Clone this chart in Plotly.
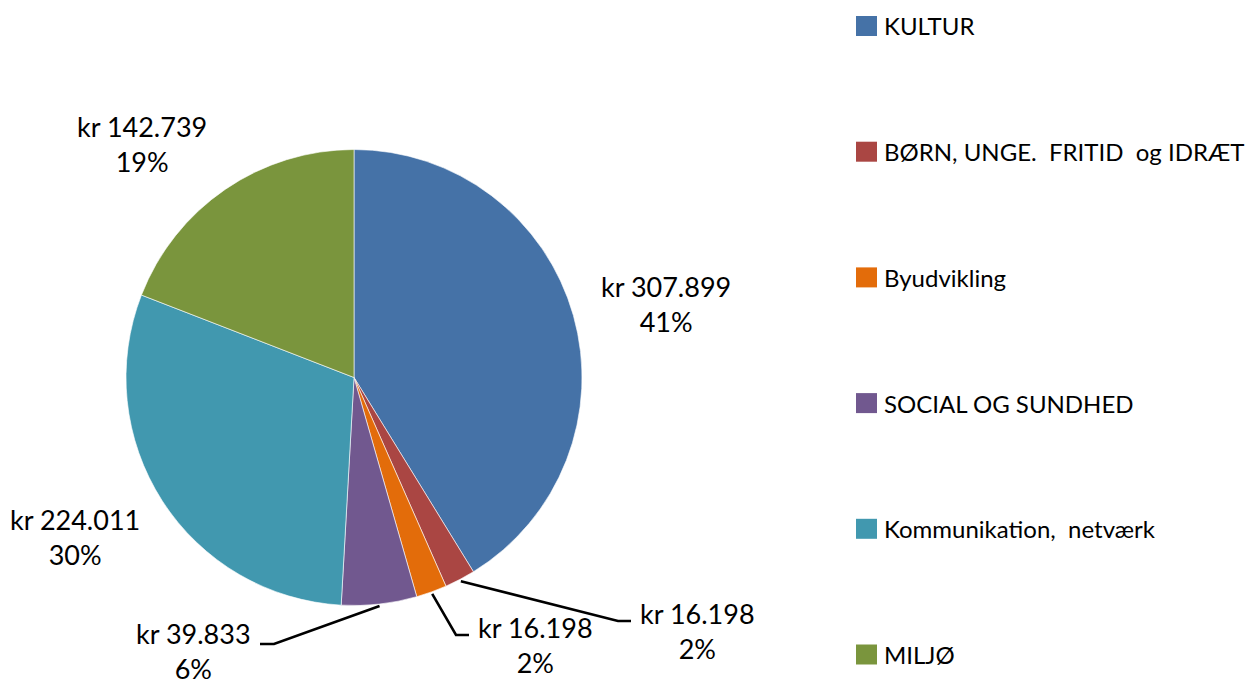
import math
import plotly.graph_objects as go

# ---- data ----
categories = ["KULTUR", "BØRN, UNGE.\u00a0 FRITID\u00a0 og IDRÆT", "Byudvikling",
              "SOCIAL OG SUNDHED", "Kommunikation,\u00a0 netværk", "MILJØ"]
amounts = [307899, 16198, 16198, 39833, 224011, 142739]
pct_labels = ["41%", "2%", "2%", "6%", "30%", "19%"]

# ---- style ----
colors = ["#4572A7", "#AA4643", "#E36C0A", "#71588F", "#4198AF", "#7A953D"]
FONT = "Lato"
W, H = 1254, 684
CX, CY, R = 354, 377.5, 228

# label block centres (pixels) and leader elbows (None = no leader)
label_pos = [(666, 304), (697, 631), (535, 645), (193, 651), (75, 537), (142, 144)]
leader = [None, ((618, 621), (631, 621)), ((456, 635), (469, 635)),
          ((274, 644), (260, 644)), None, None]


def px(x):
    return x / W


def py(y):
    return 1 - y / H


def dk(v):
    return f"{v:,}".replace(",", ".")


fig = go.Figure(go.Pie(
    labels=categories, values=amounts, sort=False, direction="clockwise", rotation=0,
    marker=dict(colors=colors, line=dict(color="white", width=0.6)),
    textinfo="none", hoverinfo="label+value+percent", showlegend=False,
    domain=dict(x=[px(CX - R), px(CX + R)], y=[py(CY + R), py(CY - R)]),
))

total = sum(amounts)
cum = 0
shapes = []
annotations = []
for i, v in enumerate(amounts):
    mid = (cum + v / 2) / total * 2 * math.pi
    cum += v
    lx, ly = label_pos[i]
    annotations.append(dict(
        x=px(lx), y=py(ly), xref="paper", yref="paper", xanchor="center", yanchor="middle",
        text=f"kr {dk(v)}<br>{pct_labels[i]}", showarrow=False, align="center",
        font=dict(family=FONT, size=27, color="#000000")))
    if leader[i] is not None:
        sx = CX + (R + 2) * math.sin(mid)
        sy = CY - (R + 2) * math.cos(mid)
        (ex, ey), (fx, fy) = leader[i]
        shapes.append(dict(
            type="path", xref="paper", yref="paper",
            path=f"M {px(sx)} {py(sy)} L {px(ex)} {py(ey)} L {px(fx)} {py(fy)}",
            line=dict(color="#000000", width=2.6)))

# manual legend
LEG_X0, LEG_SQ = 856, 21
row0, step = 26, 125.7
for i, (c, col) in enumerate(zip(categories, colors)):
    yc = row0 + i * step
    shapes.append(dict(type="rect", xref="paper", yref="paper",
                       x0=px(LEG_X0), x1=px(LEG_X0 + LEG_SQ),
                       y0=py(yc + 10), y1=py(yc - 10),
                       fillcolor=col, line=dict(width=0)))
    annotations.append(dict(
        x=px(LEG_X0 + LEG_SQ + 5), y=py(yc), xref="paper", yref="paper",
        xanchor="left", yanchor="middle", text=c, showarrow=False,
        font=dict(family=FONT, size=24, color="#000000")))

fig.update_layout(
    width=W, height=H, margin=dict(l=0, r=0, t=0, b=0),
    paper_bgcolor="white", plot_bgcolor="white",
    shapes=shapes, annotations=annotations, showlegend=False,
)
fig.write_html("out.html", config={"displayModeBar": False},
               post_script="document.body.style.margin='0';document.body.style.overflow='hidden';")
